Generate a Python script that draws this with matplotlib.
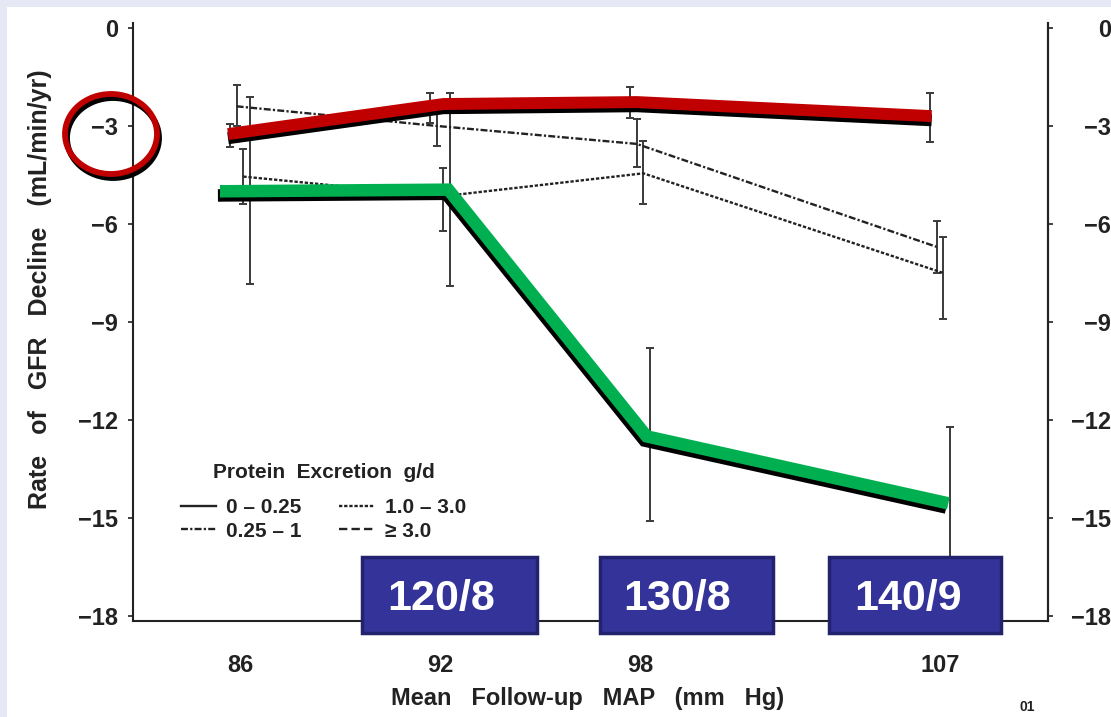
import numpy as np
import matplotlib
matplotlib.use('Agg')
import matplotlib.pyplot as plt
import matplotlib.patheffects as pe
from matplotlib.patches import Rectangle, Ellipse

plt.rcParams['font.family'] = ['Liberation Sans', 'DejaVu Sans']
plt.rcParams['font.weight'] = 'bold'
plt.rcParams['axes.labelweight'] = 'bold'
plt.rcParams['lines.scale_dashes'] = False

# MAP categories (mm Hg)
map_x = np.array([86, 92, 98, 107])
map_labels = ['86', '92', '98', '107']
y_ticks = [0, -3, -6, -9, -12, -15, -18]

# series means (mL/min/yr) by protein excretion group
groups = ['0 – 0.25', '0.25 – 1', '1.0 – 3.0', '≥ 3.0']
mean_0_025 = [-3.3, -2.45, -2.25, -2.75]
mean_025_1 = [-2.4, -3.0, -3.55, -6.7]
mean_1_3 = [-4.55, -5.15, -4.45, -7.5]
mean_ge3 = [-5.0, -5.0, -12.5, -14.6]

# error bar ends (upper, lower)
hi_0_025 = [-2.95, -2.0, -1.8, -2.0]
lo_0_025 = [-3.65, -2.9, -2.75, -3.5]
hi_025_1 = [-1.75, -2.4, -2.8, -5.9]
lo_025_1 = [-3.0, -3.6, -4.25, -7.5]
hi_1_3 = [-3.7, -4.3, -3.45, -6.4]
lo_1_3 = [-5.4, -6.2, -5.4, -8.9]
hi_ge3 = [-2.1, -2.0, -9.8, -12.2]
lo_ge3 = [-7.85, -7.9, -15.1, -17.5]

# hand-drawn highlight lines
red_x = [85.64, 92.1, 97.9, 106.75]
red_y = [-3.25, -2.33, -2.27, -2.7]
green_x = [85.4, 92.25, 98.2, 107.25]
green_y = [-5.0, -4.95, -12.5, -14.55]

box_labels = ['120/8', '130/8', '140/9']

W, H = 1111, 717
fig = plt.figure(figsize=(W / 100, H / 100), dpi=100)
fig.patch.set_facecolor('#e6e9f5')
fig.add_artist(Rectangle((7 / W, 0), 1, 1 - 7 / H, transform=fig.transFigure,
                         facecolor='white', edgecolor='none', zorder=-10))

ax = fig.add_axes([133 / W, 1 - 621 / H, (1048 - 133) / W, (621 - 23) / H])
ax.patch.set_visible(False)
ax.set_xlim(82.79, 110.24)
ax.set_ylim(-18.15, 0.15)

ink = '#222222'
series = [
    (mean_0_025, hi_0_025, lo_0_025, -0.3, '-'),
    (mean_025_1, hi_025_1, lo_025_1, -0.1, (0, (5, 1.6, 1.6, 1.6))),
    (mean_1_3, hi_1_3, lo_1_3, 0.1, (0, (2.4, 1.3))),
    (mean_ge3, hi_ge3, lo_ge3, 0.3, (0, (6, 3))),
]
handles = []
for m, hi, lo, off, ls in series:
    m = np.array(m)
    xs = map_x + off
    yerr = [m - np.array(lo), np.array(hi) - m]
    ax.errorbar(xs, m, yerr=yerr, fmt='none', ecolor='#3a3a3a', elinewidth=1.4,
                capsize=3, capthick=1.4, zorder=2)
    ln, = ax.plot(xs, m, color=ink, lw=1.7, linestyle=ls, zorder=3)
    handles.append(ln)

ax.plot(red_x, red_y, color='#c00000', lw=8.6, solid_capstyle='butt',
        solid_joinstyle='miter', zorder=5,
        path_effects=[pe.SimpleLineShadow(offset=(0, -3), shadow_color='k', alpha=1),
                      pe.Normal()])
ax.plot(green_x, green_y, color='#00b050', lw=9, solid_capstyle='butt',
        solid_joinstyle='miter', zorder=5,
        path_effects=[pe.SimpleLineShadow(offset=(-1.5, -3), shadow_color='k', alpha=1),
                      pe.Normal()])

for s in ['left', 'bottom', 'right']:
    ax.spines[s].set_color(ink)
    ax.spines[s].set_linewidth(1.5)
ax.spines['top'].set_visible(False)

ax.set_yticks(y_ticks)
ax.set_yticklabels([f'{v}'.replace('-', '−') for v in y_ticks])
ax.tick_params(axis='y', direction='out', length=3.6, width=1.2, pad=7,
               labelsize=17, colors=ink)
ax.set_xticks(map_x)
ax.set_xticklabels(map_labels)
ax.tick_params(axis='x', length=0, pad=24, labelsize=17, colors=ink)

sec = ax.secondary_yaxis('right')
sec.set_yticks(y_ticks)
sec.set_yticklabels([f'{v}'.replace('-', '−') for v in y_ticks])
sec.tick_params(direction='out', length=3.6, width=1.2, pad=42, labelsize=17, colors=ink)
sec.spines['right'].set_color(ink)
sec.spines['right'].set_linewidth(1.5)
plt.setp(sec.get_yticklabels(), ha='right')

ax.set_xlabel('Mean   Follow-up   MAP   (mm   Hg)', fontsize=17, color=ink, va='center')
ax.xaxis.set_label_coords(0.497, -0.129)
ax.set_ylabel('Rate   of   GFR   Decline   (mL/min/yr)', fontsize=18, color=ink, va='center')
ax.yaxis.set_label_coords(-0.102, 0.555)

ax.text(0.209, 0.249, 'Protein  Excretion  g/d', transform=ax.transAxes,
        ha='center', va='center', fontsize=15, color=ink)
leg = ax.legend(handles, groups, ncol=2, frameon=False, loc='upper left',
                bbox_to_anchor=(0.052, 0.205), borderpad=0, handlelength=1.7,
                handletextpad=0.5, columnspacing=1.8, labelspacing=0.2,
                fontsize=15, borderaxespad=0)
for t in leg.get_texts():
    t.set_color(ink)

# red circle around the -3 label
for dx, dy, col in [(2, -4, 'black'), (0, 0, '#c00000')]:
    fig.add_artist(Ellipse(((111 + dx) / W, 1 - (134 - dy) / H), 92 / W, 80 / H,
                           transform=fig.transFigure, fill=False, edgecolor=col,
                           lw=4.2, zorder=5))

# blue labels
box_px = [(362, 537, 441), (600, 773, 677), (829, 1001, 908)]
for (x0, x1, xt), lab in zip(box_px, box_labels):
    fig.add_artist(Rectangle((x0 / W, 1 - 633 / H), (x1 - x0) / W, 76 / H,
                             transform=fig.transFigure, facecolor='#333399',
                             edgecolor='#22226e', lw=2.5, zorder=6))
    fig.text(xt / W, 1 - 599 / H, lab, ha='center', va='center', color='white',
             fontsize=31, zorder=7)

fig.text(1020 / W, 1 - 707 / H, '01', fontsize=10, color=ink, va='center')

fig.savefig('out.png', dpi=100, facecolor=fig.get_facecolor())
